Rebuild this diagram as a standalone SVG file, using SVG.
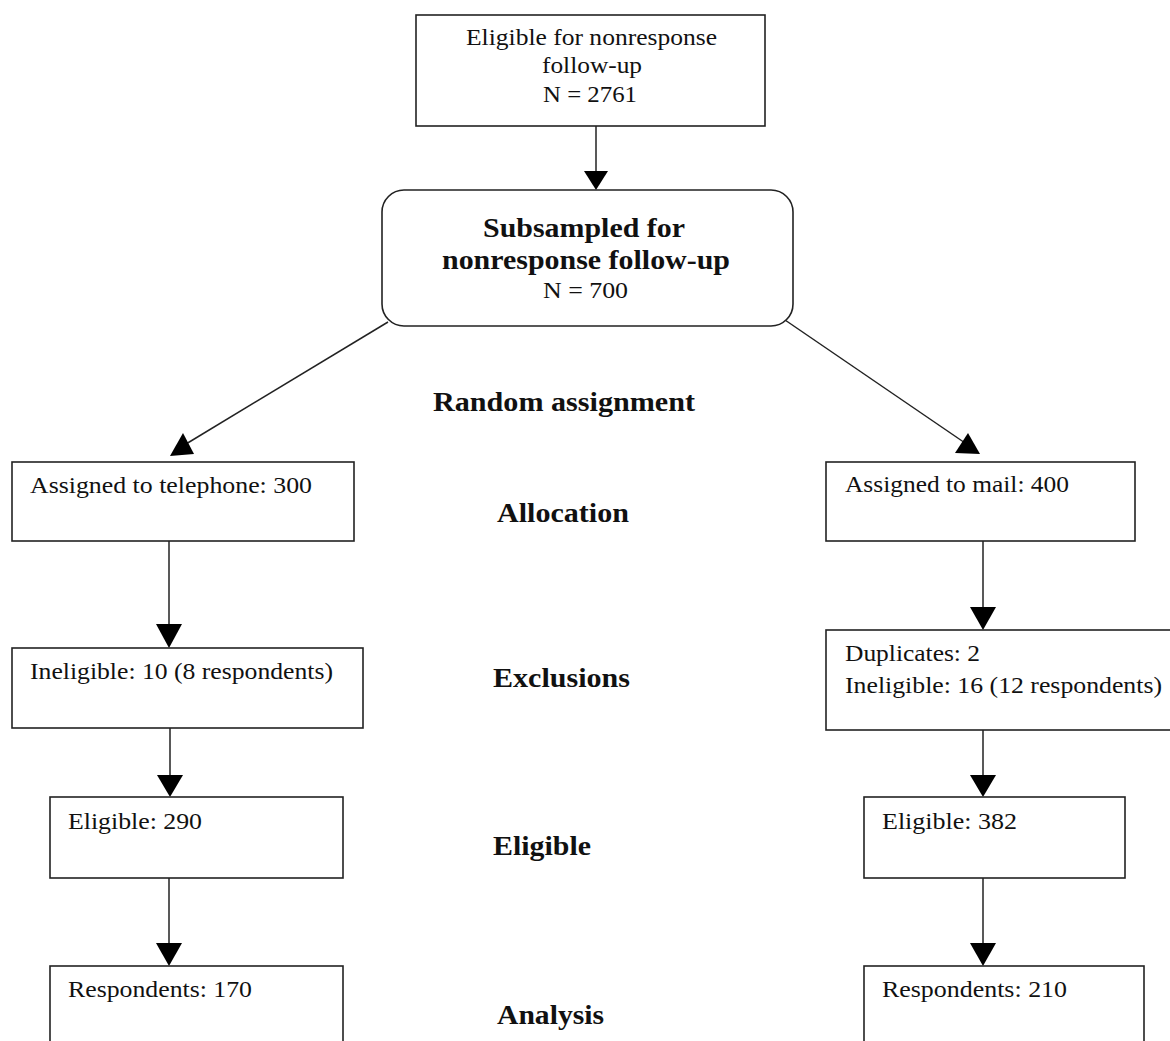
<svg xmlns="http://www.w3.org/2000/svg" width="1170" height="1041" viewBox="0 0 1170 1041">
<style>
.box{fill:#fff;stroke:#222;stroke-width:1.6}
.t{font-family:"Liberation Serif","Times New Roman",serif;font-size:24px;fill:#111}
.b{font-family:"Liberation Serif","Times New Roman",serif;font-size:28px;font-weight:bold;fill:#111}
.ln{stroke:#222;stroke-width:1.5;fill:none}
.ah{fill:#000;stroke:none}
</style>
<rect width="1170" height="1041" fill="#fff"/>
<g id="connectors">
<line class="ln" x1="596" y1="126" x2="596" y2="175"/>
<polygon class="ah" points="584,171 608,171 596,190"/>
<line class="ln" x1="388" y1="322" x2="186" y2="444"/>
<polygon class="ah" points="183,433 170,456 194,454"/>
<line class="ln" x1="785" y1="320" x2="968" y2="445"/>
<polygon class="ah" points="968,433 955,453 980,454"/>
<line class="ln" x1="169" y1="541" x2="169" y2="630"/>
<polygon class="ah" points="156,624 182,624 169,648"/>
<line class="ln" x1="170" y1="728" x2="170" y2="780"/>
<polygon class="ah" points="157,775 183,775 170,797"/>
<line class="ln" x1="169" y1="878" x2="169" y2="948"/>
<polygon class="ah" points="156,943 182,943 169,966"/>
<line class="ln" x1="983" y1="541" x2="983" y2="612"/>
<polygon class="ah" points="970,607 996,607 983,630"/>
<line class="ln" x1="983" y1="730" x2="983" y2="780"/>
<polygon class="ah" points="970,775 996,775 983,797"/>
<line class="ln" x1="983" y1="878" x2="983" y2="948"/>
<polygon class="ah" points="970,943 996,943 983,966"/>
</g>
<g id="eligible-followup">
<rect class="box" x="416" y="15" width="349" height="111"/>
<text class="t" x="466" y="45" textLength="251" lengthAdjust="spacingAndGlyphs">Eligible for nonresponse</text>
<text class="t" x="542" y="73" textLength="100" lengthAdjust="spacingAndGlyphs">follow-up</text>
<text class="t" x="543" y="102" textLength="94" lengthAdjust="spacingAndGlyphs">N = 2761</text>
</g>
<g id="subsampled">
<rect class="box" x="382" y="190" width="411" height="136" rx="22" ry="22"/>
<text class="b" x="483" y="237" textLength="202" lengthAdjust="spacingAndGlyphs">Subsampled for</text>
<text class="b" x="442" y="269" textLength="288" lengthAdjust="spacingAndGlyphs">nonresponse follow-up</text>
<text class="t" x="543" y="298" textLength="85" lengthAdjust="spacingAndGlyphs">N = 700</text>
</g>
<g id="labels">
<text class="b" x="433" y="411" textLength="262" lengthAdjust="spacingAndGlyphs">Random assignment</text>
<text class="b" x="497" y="522" textLength="132" lengthAdjust="spacingAndGlyphs">Allocation</text>
<text class="b" x="493" y="687" textLength="137" lengthAdjust="spacingAndGlyphs">Exclusions</text>
<text class="b" x="493" y="855" textLength="98" lengthAdjust="spacingAndGlyphs">Eligible</text>
<text class="b" x="497" y="1024" textLength="107" lengthAdjust="spacingAndGlyphs">Analysis</text>
</g>
<g id="tel-assigned">
<rect class="box" x="12" y="462" width="342" height="79"/>
<text class="t" x="30" y="493" textLength="282" lengthAdjust="spacingAndGlyphs">Assigned to telephone: 300</text>
</g>
<g id="tel-ineligible">
<rect class="box" x="12" y="648" width="351" height="80"/>
<text class="t" x="30" y="679" textLength="303" lengthAdjust="spacingAndGlyphs">Ineligible: 10 (8 respondents)</text>
</g>
<g id="tel-eligible">
<rect class="box" x="50" y="797" width="293" height="81"/>
<text class="t" x="68" y="829" textLength="134" lengthAdjust="spacingAndGlyphs">Eligible: 290</text>
</g>
<g id="tel-respondents">
<rect class="box" x="50" y="966" width="293" height="100"/>
<text class="t" x="68" y="997" textLength="184" lengthAdjust="spacingAndGlyphs">Respondents: 170</text>
</g>
<g id="mail-assigned">
<rect class="box" x="826" y="462" width="309" height="79"/>
<text class="t" x="845" y="492" textLength="224" lengthAdjust="spacingAndGlyphs">Assigned to mail: 400</text>
</g>
<g id="mail-exclusions">
<rect class="box" x="826" y="630" width="360" height="100"/>
<text class="t" x="845" y="661" textLength="135" lengthAdjust="spacingAndGlyphs">Duplicates: 2</text>
<text class="t" x="845" y="693" textLength="317" lengthAdjust="spacingAndGlyphs">Ineligible: 16 (12 respondents)</text>
</g>
<g id="mail-eligible">
<rect class="box" x="864" y="797" width="261" height="81"/>
<text class="t" x="882" y="829" textLength="135" lengthAdjust="spacingAndGlyphs">Eligible: 382</text>
</g>
<g id="mail-respondents">
<rect class="box" x="864" y="966" width="280" height="100"/>
<text class="t" x="882" y="997" textLength="185" lengthAdjust="spacingAndGlyphs">Respondents: 210</text>
</g>
</svg>
